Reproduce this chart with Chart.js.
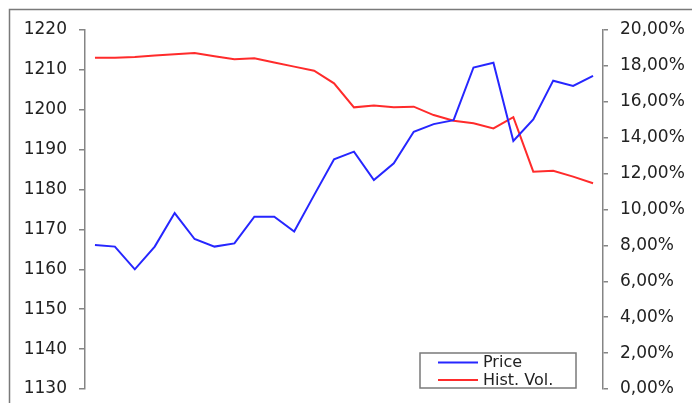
<!DOCTYPE html>
<html>
<head>
<meta charset="utf-8">
<script src="https://cdn.jsdelivr.net/npm/chart.js@4/dist/chart.umd.min.js"></script>
<style>
  html, body { margin: 0; padding: 0; background: #fff; }
  canvas { display: block; }
</style>
</head>
<body>
<canvas id="myChart" width="692" height="403"></canvas>
<script>
// trading days
const days = ["1", "2", "3", "4", "5", "6", "7", "8", "9", "10", "11", "12", "13",
    "14", "15", "16", "17", "18", "19", "20", "21", "22", "23", "24", "25", "26"];

// index level (left axis)
const price = [1166.1, 1165.7, 1160.0, 1165.7, 1174.1, 1167.6, 1165.7, 1166.5, 1173.2, 1173.2,
    1169.5, 1178.6, 1187.6, 1189.5, 1182.4, 1186.6, 1194.5, 1196.4, 1197.4, 1210.6,
    1211.8, 1192.2, 1197.6, 1207.3, 1206.0, 1208.5];

// historical volatility in percent (right axis)
const histVol = [18.46, 18.46, 18.50, 18.58, 18.65, 18.72, 18.54, 18.37, 18.42, 18.19,
    17.96, 17.73, 17.03, 15.69, 15.79, 15.69, 15.73, 15.26, 14.95, 14.80,
    14.52, 15.14, 12.11, 12.16, 11.83, 11.46];

const seriesNames = ["Price", "Hist. Vol."];
const priceTicks = { min: 1130, max: 1220, step: 10 };
const volTicks = { min: 0, max: 20, step: 2 };

const axisGrey = "#858585";
const textColor = "#222222";
const fontFamily = "'DejaVu Sans', sans-serif";

// grey frame around the whole chart
const framePlugin = {
    id: "frame",
    beforeDraw(chart) {
        const ctx = chart.ctx;
        ctx.save();
        ctx.fillStyle = "#ffffff";
        ctx.fillRect(0, 0, chart.width, chart.height);
        ctx.strokeStyle = "#7a7a7a";
        ctx.lineWidth = 1.5;
        ctx.beginPath();
        ctx.moveTo(9.5, chart.height + 2);
        ctx.lineTo(9.5, 9.5);
        ctx.lineTo(chart.width + 2, 9.5);
        ctx.stroke();
        ctx.restore();
    }
};

// boxed legend in the lower right corner of the plot
const boxLegend = {
    id: "boxLegend",
    afterDraw(chart) {
        const ctx = chart.ctx;
        const area = chart.chartArea;
        const x = area.right - 183, y = area.bottom - 36;
        const w = 156, h = 35;
        ctx.save();
        ctx.strokeStyle = "#7a7a7a";
        ctx.lineWidth = 1.5;
        ctx.strokeRect(x, y, w, h);
        ctx.font = "16px " + fontFamily;
        ctx.textBaseline = "middle";
        chart.data.datasets.forEach((ds, i) => {
            const ly = y + 9.5 + i * 17.5;
            ctx.strokeStyle = ds.borderColor;
            ctx.lineWidth = 2;
            ctx.beginPath();
            ctx.moveTo(x + 18, ly);
            ctx.lineTo(x + 58, ly);
            ctx.stroke();
            ctx.fillStyle = textColor;
            ctx.fillText(ds.label, x + 63, ly + 0.5);
        });
        ctx.restore();
    }
};

// fixed axis widths; label overflow is covered by the layout padding
function fixWidth(width) {
    return (scale) => {
        scale.width = width;
        scale.paddingTop = 0;
        scale.paddingBottom = 0;
    };
}

new Chart("myChart", {
    type: "line",
    data: {
        labels: days,
        datasets: [{
            label: seriesNames[0],
            data: price,
            yAxisID: "yPrice",
            borderColor: "#2626ff",
            borderWidth: 2,
            fill: false,
            pointRadius: 0,
            tension: 0
        }, {
            label: seriesNames[1],
            data: histVol,
            yAxisID: "yVol",
            borderColor: "#ff2b2b",
            borderWidth: 2,
            fill: false,
            pointRadius: 0,
            tension: 0
        }]
    },
    options: {
        responsive: false,
        animation: false,
        devicePixelRatio: 1,
        layout: { padding: { top: 30, bottom: 14, left: 0, right: 0 } },
        plugins: {
            legend: { display: false },
            tooltip: { enabled: false }
        },
        scales: {
            x: {
                type: "category",
                offset: true,
                display: false
            },
            yPrice: {
                position: "left",
                min: priceTicks.min,
                max: priceTicks.max,
                afterFit: fixWidth(85),
                ticks: {
                    stepSize: priceTicks.step,
                    padding: 12,
                    color: textColor,
                    font: { family: fontFamily, size: 17 },
                    callback: (v) => String(v)
                },
                grid: {
                    drawOnChartArea: false,
                    drawTicks: true,
                    tickLength: 6,
                    color: axisGrey,
                    lineWidth: 1.5
                },
                border: { display: true, color: axisGrey, width: 1.5 }
            },
            yVol: {
                position: "right",
                min: volTicks.min,
                max: volTicks.max,
                afterFit: fixWidth(89),
                ticks: {
                    stepSize: volTicks.step,
                    padding: 12,
                    color: textColor,
                    font: { family: fontFamily, size: 17 },
                    callback: (v) => v.toFixed(2).replace(".", ",") + "%"
                },
                grid: {
                    drawOnChartArea: false,
                    drawTicks: true,
                    tickLength: 5,
                    color: axisGrey,
                    lineWidth: 1.5
                },
                border: { display: true, color: axisGrey, width: 1.5 }
            }
        }
    },
    plugins: [framePlugin, boxLegend]
});
</script>
</body>
</html>
